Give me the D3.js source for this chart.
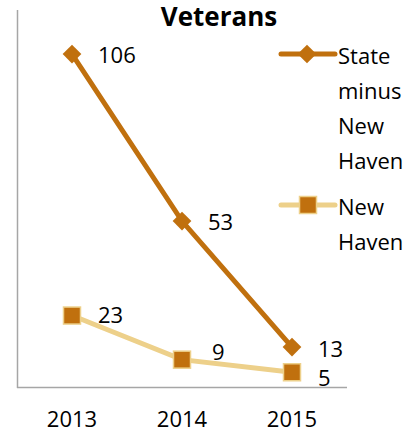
<!DOCTYPE html>
<html><head><meta charset="utf-8">
<script src="https://cdn.jsdelivr.net/npm/d3@7"></script>
<style>body{margin:0;background:#fff}svg{display:block}</style>
</head><body>
<script>
const categories = ["2013","2014","2015"];
const stateMinusNH = [106,53,13];
const newHaven = [23,9,5];
const seriesNames = ["State minus New Haven","New Haven"];
const title = "Veterans";

const W=420,H=434;
const svg=d3.select("body").append("svg").attr("width",W).attr("height",H);
const font="'Open Sans', 'Noto Sans', sans-serif";
const dark="#C0700E", light="#EDD08A";
const fs=22;

const x=d3.scaleBand().domain(categories).range([17,347]);
const y=d3.scaleLinear().domain([0,120]).range([388,10]);
const cx=d=>x(d)+x.bandwidth()/2;

svg.append("text").attr("x",219).attr("y",26).attr("text-anchor","middle")
  .attr("font-family",font).attr("font-weight","bold").attr("font-size",26).text(title);

// axes
svg.append("line").attr("x1",17.5).attr("x2",17.5).attr("y1",10).attr("y2",388).attr("stroke","#a6a6a6").attr("stroke-width",1.5);
svg.append("line").attr("x1",17).attr("x2",347).attr("y1",387.5).attr("y2",387.5).attr("stroke","#a6a6a6").attr("stroke-width",1.5);

svg.selectAll(".xl").data(categories).enter().append("text")
  .attr("x",d=>cx(d)).attr("y",427).attr("text-anchor","middle")
  .attr("font-family",font).attr("font-size",fs).text(d=>d);

const line=d3.line().x((d,i)=>cx(categories[i])).y(d=>y(d));

svg.append("path").attr("d",line(newHaven)).attr("fill","none").attr("stroke",light).attr("stroke-width",5);
svg.append("path").attr("d",line(stateMinusNH)).attr("fill","none").attr("stroke",dark).attr("stroke-width",5);

const diamond=d3.symbol().type(d3.symbolSquare).size(175);
function drawDiamond(g,px,py){
  g.append("path").attr("d",diamond()).attr("transform",`translate(${px},${py}) rotate(45)`).attr("fill",dark);
}
function drawSquare(g,px,py){
  g.append("rect").attr("x",px-8.5).attr("y",py-8.5).attr("width",17).attr("height",17)
   .attr("fill",dark).attr("stroke",light).attr("stroke-width",1.5);
}
newHaven.forEach((v,i)=>drawSquare(svg,cx(categories[i]),y(v)));
stateMinusNH.forEach((v,i)=>drawDiamond(svg,cx(categories[i]),y(v)));

function label(v,i,dx,dy){
  svg.append("text").attr("x",cx(categories[i])+dx).attr("y",y(v)+dy)
   .attr("dominant-baseline","central").attr("font-family",font).attr("font-size",fs).text(v);
}
stateMinusNH.forEach((v,i)=>label(v,i,26,i===2?1:0));
newHaven.forEach((v,i)=>label(v,i,i===1?30:26,i===1?-9:(i===2?5:-2)));

// legend
const lg=svg.append("g");
lg.append("line").attr("x1",281).attr("x2",335).attr("y1",54).attr("y2",54).attr("stroke",dark).attr("stroke-width",5).attr("stroke-linecap","round");
drawDiamond(lg,307,54);
lg.append("line").attr("x1",281).attr("x2",335).attr("y1",205).attr("y2",205).attr("stroke",light).attr("stroke-width",5).attr("stroke-linecap","round");
drawSquare(lg,308,205);
const leg1=["State","minus","New","Haven"], leg2=["New","Haven"];
leg1.forEach((t,i)=>lg.append("text").attr("x",338).attr("y",55+i*35).attr("dominant-baseline","central")
  .attr("font-family",font).attr("font-size",fs).text(t));
leg2.forEach((t,i)=>lg.append("text").attr("x",338).attr("y",206+i*35).attr("dominant-baseline","central")
  .attr("font-family",font).attr("font-size",fs).text(t));
</script>
</body></html>
